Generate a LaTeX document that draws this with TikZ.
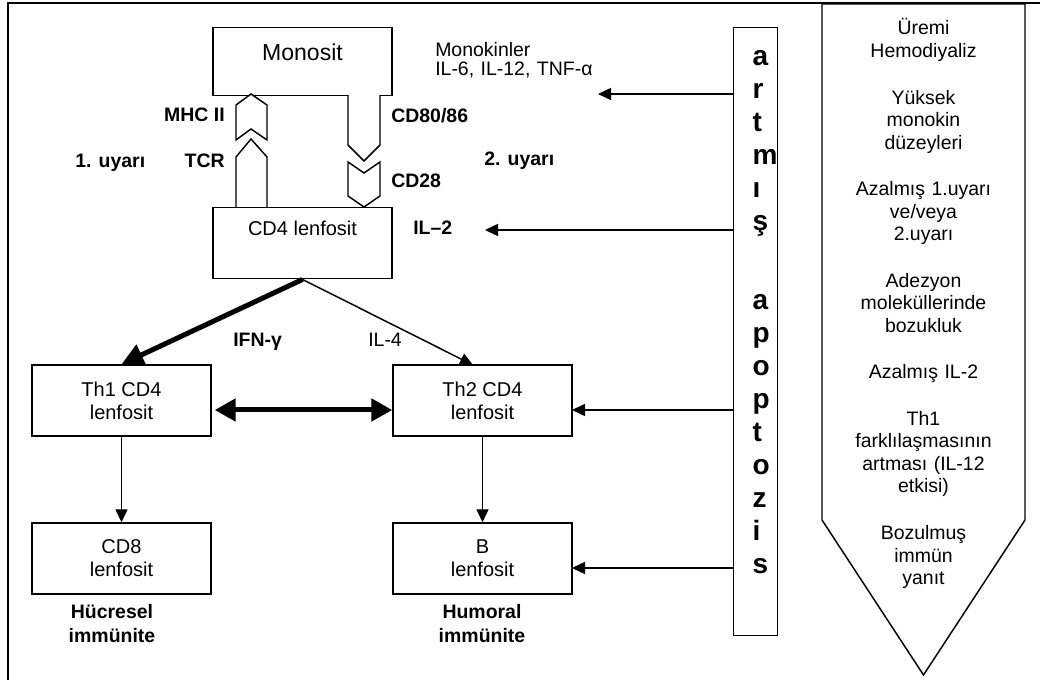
\documentclass[tikz,border=0pt]{standalone}
\usepackage{fontspec}
\setmainfont{Liberation Sans}
\usetikzlibrary{arrows.meta,calc}
\newdimen\px \px=0.75pt
\begin{document}
\begin{tikzpicture}[x=0.75pt,y=-0.75pt,
  box/.style={draw, line width=1.1pt, fill=white, minimum width=179\px, minimum height=71\px, inner sep=0pt, align=center, font=\fontsize{15}{17.3}\selectfont},
  lbl/.style={font=\fontsize{14.6}{17.3}\selectfont\bfseries, inner sep=0pt},
  rlbl/.style={font=\fontsize{14.6}{17}\selectfont, inner sep=0pt},
  shp/.style={draw, line width=1.1pt, fill=white, line join=miter},
  arr/.style={-{Triangle[length=9.75pt,width=9pt]}, line width=1.1pt},
  thickarr/.style={-{Triangle[length=16.5pt,width=16.5pt]}, line width=3.75pt},
  dblarr/.style={{Triangle[length=15.75pt,width=16.5pt]}-{Triangle[length=15.75pt,width=16.5pt]}, line width=3.75pt}
]
\useasboundingbox (0,0) rectangle (1040,680);
\clip (0,0) rectangle (1040,680);
% outer frame
\draw[line width=1.8pt] (8,700) -- (8,3) -- (1050,3);

% boxes
\node[box, anchor=north, minimum height=0pt, text height=33\px, text depth=35\px, font=\fontsize{17.3}{20}\selectfont] (mono) at (302.5,27) {Monosit};
\node[box, anchor=north, minimum height=0pt, text height=28\px, text depth=43\px] (cd4) at (302.5,207) {CD4 lenfosit};
\node[box] (th1) at (121.5,400.5) {Th1 CD4\\lenfosit};
\node[box] (cd8) at (121.5,558.5) {CD8\\lenfosit};
\node[box] (th2) at (482.5,400.5) {Th2 CD4\\lenfosit};
\node[box] (bl) at (482.5,558.5) {B\\lenfosit};

% receptor shapes
\draw[shp] (236,105) -- (251,94) -- (267,105) -- (267,140) -- (251,129) -- (236,140) -- cycle;
\draw[shp] (236,207) -- (236,157) -- (251,139) -- (267,157) -- (267,207);
\draw[shp] (348,95) -- (348,145) -- (364,161) -- (380,145) -- (380,95);
\draw[shp] (348,162) -- (364,173) -- (380,162) -- (380,196) -- (364,207) -- (348,196) -- cycle;

% labels
\node[lbl, anchor=base east] (mhc) at (225,122) {MHC II};
\node[lbl, anchor=base east] (tcr) at (225,168) {TCR};
\node[lbl, anchor=base west] (u1) at (75,168) {1. uyarı};
\node[lbl, anchor=base west] (cd80) at (391,123) {CD80/86};
\node[lbl, anchor=base west] (cd28) at (391,188) {CD28};
\node[lbl, anchor=base west] (u2) at (484,166) {2. uyarı};
\node[lbl, anchor=base west] (il2l) at (413,235) {IL–2};
\node[rlbl, anchor=base west, align=left, text width=200\px, font=\fontsize{14.6}{13.7}\selectfont] (monok) at (435,57) {Monokinler\\IL-6, IL-12, TNF-α};
\node[lbl, anchor=base west] (ifn) at (233,347) {IFN-γ};
\node[rlbl, anchor=base west] (il4) at (368,347) {IL-4};
\node[lbl, anchor=base, align=center, text width=130\px] (hc) at (112,619) {Hücresel\\immünite};
\node[lbl, anchor=base, align=center, text width=130\px] (hm) at (482,619) {Humoral\\immünite};

% apoptosis box
\node[draw, line width=1.1pt, anchor=north west, text width=6\px, inner xsep=19\px, inner ysep=0pt, text height=38\px, text depth=570\px, align=left, font=\fontsize{21}{24.75}\selectfont\bfseries] (apop) at (733,27) {a\\r\\t\\m\\ı\\ş\\[46\px]a\\p\\o\\p\\t\\o\\z\\i\\s};

% right pentagon
\draw[line width=1.1pt, line join=miter] (822,4) -- (1025,4) -- (1025,520) -- (923.5,675) -- (822,520) -- cycle;
\node[anchor=base, text width=190\px, align=center, inner sep=0pt, font=\fontsize{14.6}{16.9}\selectfont] (fact) at (923.5,35) {Üremi\\Hemodiyaliz\\[24\px]Yüksek\\monokin\\düzeyleri\\[24\px]Azalmış 1.uyarı\\ve/veya\\2.uyarı\\[24\px]Adezyon\\moleküllerinde\\bozukluk\\[24\px]Azalmış IL-2\\[24\px]Th1\\farklılaşmasının\\artması (IL-12\\etkisi)\\[24\px]Bozulmuş\\immün\\yanıt};

% connectors
\coordinate (mk) at (598,94);
\coordinate (il2) at (485,230);
\coordinate (t2in) at (572,410);
\coordinate (bin) at (572,568);
\coordinate (t2top) at (473,365);
\draw[arr] (apop.west |- mk) -- (mk);
\draw[arr] (apop.west |- il2) -- (il2);
\draw[arr] (apop.west |- t2in) -- (t2in);
\draw[arr] (apop.west |- bin) -- (bin);
\draw[thickarr] (cd4.south) -- (th1.north);
\draw[arr] (cd4.south) -- (t2top);
\draw[dblarr] ($(th1.east)+(3,9.5)$) -- ($(th2.west)+(0,9.5)$);
\draw[arr] (th1.south) -- (cd8.north);
\draw[arr] (th2.south) -- (bl.north);
\end{tikzpicture}
\end{document}
